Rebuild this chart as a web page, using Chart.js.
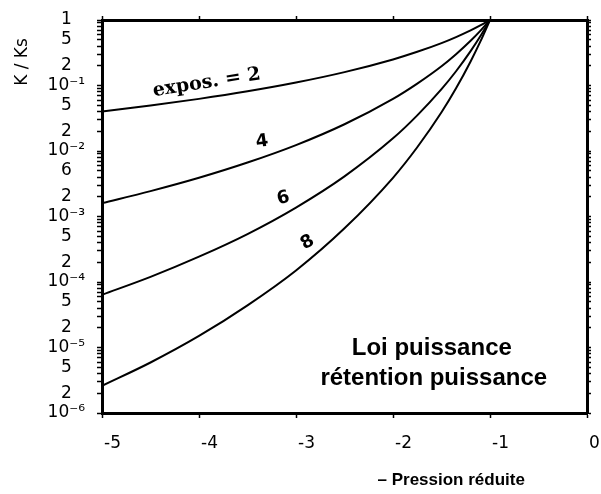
<!DOCTYPE html>
<html>
<head>
<meta charset="utf-8">
<script src="https://cdn.jsdelivr.net/npm/chart.js@4"></script>
<style>
  html, body { margin: 0; padding: 0; background: #fff; }
</style>
</head>
<body>
<canvas id="chart" width="601" height="494"></canvas>
<script>
// reduced pressure (x) and K/Ks for each exponent
const pressure = [-5, -4.5, -4, -3.5, -3, -2.5, -2, -1.75, -1.5, -1.35, -1.2, -1.1, -1];
const expos2 = [0.04, 0.0494, 0.0625, 0.0816, 0.111, 0.16, 0.25, 0.327, 0.444, 0.549, 0.694, 0.826, 1];
const expos4 = [0.0016, 0.00244, 0.0039, 0.00666, 0.0123, 0.0256, 0.0625, 0.107, 0.197, 0.301, 0.482, 0.683, 1];
const expos6 = [6.4e-5, 1.2e-4, 2.44e-4, 5.4e-4, 1.37e-3, 4.1e-3, 0.0156, 0.035, 0.088, 0.165, 0.335, 0.564, 1];
const expos8 = [2.6e-6, 5.9e-6, 1.5e-5, 4.4e-5, 1.5e-4, 6.6e-4, 3.9e-3, 0.0114, 0.039, 0.0906, 0.233, 0.467, 1];

const yLabelValues = [1, 0.5, 0.2, 0.1, 0.05, 0.02, 0.01, 0.005, 0.002, 0.001,
  5e-4, 2e-4, 1e-4, 5e-5, 2e-5, 1e-5, 5e-6, 2e-6, 1e-6];
const yLabelTexts = ['1', '5', '2', '10⁻¹', '5', '2', '10⁻²', '6', '2', '10⁻³',
  '5', '2', '10⁻⁴', '5', '2', '10⁻⁵', '5', '2', '10⁻⁶'];

const font = { family: '"DejaVu Sans"', size: 17 };

const toPoints = (values) => values.map((v, i) => ({ x: pressure[i], y: v }));

const keepWholeMantissa = (scale) => {
  scale.ticks = scale.ticks.filter((t) => {
    const m = t.value / Math.pow(10, Math.floor(Math.log10(t.value) + 1e-9));
    return Math.abs(m - Math.round(m)) < 1e-6;
  });
};

const yLabel = (value) => {
  const i = yLabelValues.findIndex((v) => Math.abs(Math.log10(v) - Math.log10(value)) < 1e-6);
  return i === -1 ? '' : yLabelTexts[i];
};

const curveLabels = [
  { text: 'expos. = 2', x: -3.92, y: 0.11, angle: -9, font: 'bold 19px "DejaVu Serif"' },
  { text: '4', x: -3.35, y: 0.0138, angle: -8, font: 'bold 18px "DejaVu Sans"' },
  { text: '6', x: -3.13, y: 1.9e-3, angle: -15, font: 'bold 18px "DejaVu Sans"' },
  { text: '8', x: -2.88, y: 4e-4, angle: -30, font: 'bold 18px "DejaVu Sans"' },
];

const textPlugin = {
  id: 'figureText',
  afterDraw(chart) {
    const { ctx, scales: { x, y } } = chart;
    ctx.save();
    ctx.fillStyle = '#000';
    ctx.textAlign = 'center';
    ctx.textBaseline = 'middle';

    for (const label of curveLabels) {
      ctx.save();
      ctx.font = label.font;
      ctx.translate(x.getPixelForValue(label.x), y.getPixelForValue(label.y));
      ctx.rotate((label.angle * Math.PI) / 180);
      ctx.fillText(label.text, 0, 0);
      ctx.restore();
    }

    ctx.font = 'bold 24px "Liberation Sans"';
    ctx.fillText('Loi puissance', x.getPixelForValue(-1.6), y.getPixelForValue(9.8e-6));
    ctx.fillText('rétention puissance', x.getPixelForValue(-1.58), y.getPixelForValue(3.4e-6));

    ctx.font = 'bold 17px "Liberation Sans"';
    ctx.fillText('– Pression réduite', x.getPixelForValue(-1.4), 480);

    ctx.save();
    ctx.font = '17px "DejaVu Sans"';
    ctx.translate(23, 62);
    ctx.rotate(-Math.PI / 2);
    ctx.fillText('K / Ks', 0, 0);
    ctx.restore();

    ctx.restore();
  },
};

const line = (data) => ({
  data: toPoints(data),
  borderColor: '#000',
  borderWidth: 2,
  pointRadius: 0,
  fill: false,
  cubicInterpolationMode: 'monotone',
});

const border = { display: true, color: '#000', width: 3 };

// keep the plot frame where the figure has it, whatever the label widths
const fixHeight = (h) => (scale) => {
  scale.height = h;
  scale.paddingLeft = 0;
  scale.paddingRight = 0;
};
const fixWidth = (w) => (scale) => {
  scale.width = w;
  scale.paddingTop = 0;
  scale.paddingBottom = 0;
};

new Chart(document.getElementById('chart'), {
  type: 'line',
  data: {
    datasets: [line(expos2), line(expos4), line(expos6), line(expos8)],
  },
  plugins: [textPlugin],
  options: {
    responsive: false,
    animation: false,
    layout: { padding: 0 },
    plugins: {
      legend: { display: false },
      tooltip: { enabled: false },
    },
    scales: {
      x: {
        type: 'linear',
        position: 'bottom',
        min: -5,
        max: 0,
        border,
        grid: { drawOnChartArea: false, tickLength: 5, color: '#000', tickWidth: 1.5 },
        ticks: {
          stepSize: 1,
          align: 'start',
          labelOffset: 2,
          padding: 15,
          color: '#000',
          font,
          callback: (v) => String(v),
        },
        afterFit: fixHeight(81),
      },
      x2: {
        type: 'linear',
        position: 'top',
        min: -5,
        max: 0,
        border,
        grid: { drawOnChartArea: false, tickLength: 4, color: '#000', tickWidth: 1.5 },
        ticks: { stepSize: 1, display: false },
        afterFit: fixHeight(20),
      },
      y: {
        type: 'logarithmic',
        position: 'left',
        min: 1e-6,
        max: 1,
        border,
        grid: { drawOnChartArea: false, tickLength: 5, color: '#000', tickWidth: 1.5 },
        ticks: {
          autoSkip: false,
          crossAlign: 'center',
          padding: 12,
          color: '#000',
          font,
          callback: yLabel,
        },
        afterBuildTicks: keepWholeMantissa,
        afterFit: fixWidth(102),
      },
      y2: {
        type: 'logarithmic',
        position: 'right',
        min: 1e-6,
        max: 1,
        border,
        grid: { drawOnChartArea: false, tickLength: 4, color: '#000', tickWidth: 1.5 },
        ticks: { autoSkip: false, callback: () => '' },
        afterBuildTicks: keepWholeMantissa,
        afterFit: fixWidth(14),
      },
    },
  },
});
</script>
</body>
</html>
